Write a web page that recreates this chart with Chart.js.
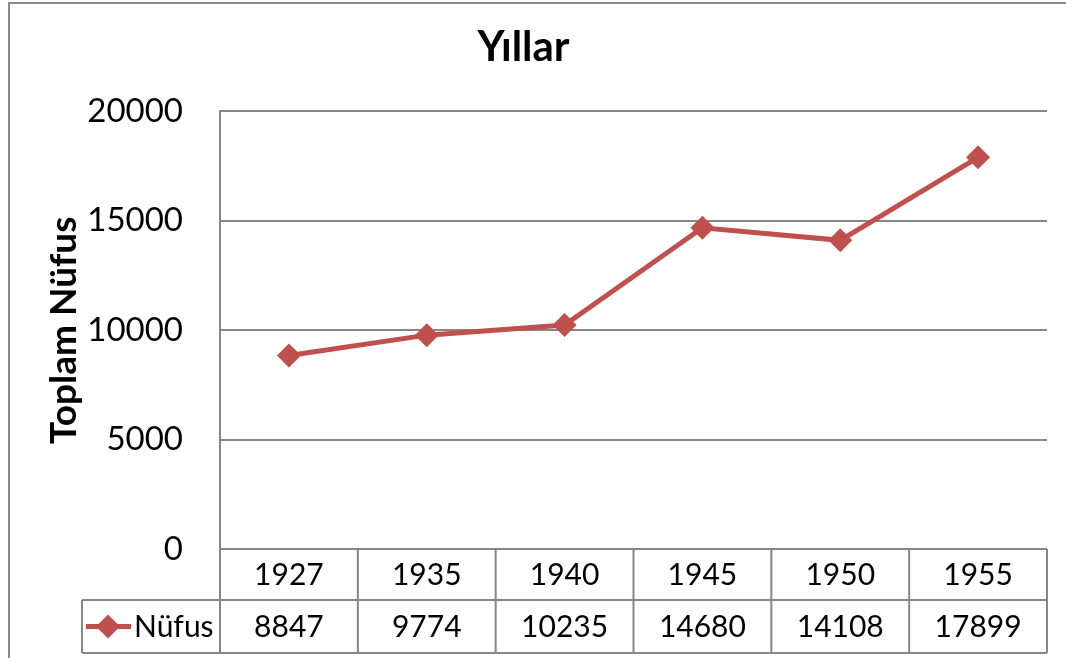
<!DOCTYPE html>
<html>
<head>
<meta charset="utf-8">
<style>
  body { margin: 0; background: #fff; }
  #wrap { width: 1066px; height: 658px; }
</style>
</head>
<body>
<div id="wrap"><canvas id="nufusChart" width="1066" height="658"></canvas></div>
<script src="https://cdn.jsdelivr.net/npm/chart.js@4/dist/chart.umd.min.js"></script>
<script>
  // data
  const years = ['1927', '1935', '1940', '1945', '1950', '1955'];
  const nufus = [8847, 9774, 10235, 14680, 14108, 17899];
  const seriesName = 'Nüfus';
  const yTicks = [0, 5000, 10000, 15000, 20000];

  const red = '#C0504D';
  const gridGray = '#868686';
  const fontFam = 'Lato, "Open Sans", sans-serif';

  // draws the outer frame and the Excel style data table under the plot
  const dataTable = {
    id: 'dataTable',
    afterDraw(chart) {
      const ctx = chart.ctx;
      const ca = chart.chartArea;
      const xs = chart.scales.x;
      const n = years.length;
      const colW = (ca.right - ca.left) / n;
      const row1Top = ca.bottom, row1Bot = ca.bottom + 51, row2Bot = row1Bot + 53;
      const legLeft = 82;

      ctx.save();
      ctx.strokeStyle = gridGray;
      ctx.lineWidth = 2;
      ctx.beginPath();
      // column dividers
      for (let i = 0; i <= n; i++) {
        const x = ca.left + i * colW;
        ctx.moveTo(x, row1Top); ctx.lineTo(x, row2Bot);
      }
      // row lines
      ctx.moveTo(legLeft, row1Bot); ctx.lineTo(ca.right, row1Bot);
      ctx.moveTo(legLeft, row2Bot); ctx.lineTo(ca.right, row2Bot);
      ctx.moveTo(legLeft, row1Bot); ctx.lineTo(legLeft, row2Bot);
      ctx.stroke();

      // outer chart frame
      ctx.lineWidth = 2;
      ctx.strokeStyle = '#8c8c8c';
      ctx.strokeRect(9, 3, 1100, 700);

      // cell texts
      ctx.fillStyle = '#000';
      ctx.font = '30px ' + fontFam;
      ctx.textAlign = 'center';
      ctx.textBaseline = 'middle';
      years.forEach((y, i) => {
        const cx = xs.getPixelForValue(i);
        ctx.fillText(y, cx, (row1Top + row1Bot) / 2 + 1);
        ctx.fillText(String(nufus[i]), cx, (row1Bot + row2Bot) / 2 + 1);
      });

      // legend key
      const ly = (row1Bot + row2Bot) / 2;
      ctx.strokeStyle = red;
      ctx.lineWidth = 5;
      ctx.beginPath();
      ctx.moveTo(86, ly); ctx.lineTo(131, ly);
      ctx.stroke();
      ctx.fillStyle = red;
      Chart.helpers.drawPoint(ctx, { pointStyle: 'rectRot', radius: 12, rotation: 0, borderWidth: 0 }, 108, ly);
      ctx.fillStyle = '#000';
      ctx.textAlign = 'left';
      ctx.fillText(seriesName, 134, ly + 1);
      ctx.restore();
    }
  };

  new Chart(document.getElementById('nufusChart'), {
    type: 'line',
    data: {
      labels: years,
      datasets: [{
        label: seriesName,
        data: nufus,
        borderColor: red,
        backgroundColor: red,
        borderWidth: 5,
        tension: 0,
        pointStyle: 'rectRot',
        pointRadius: 12,
        pointBorderWidth: 0,
        pointBackgroundColor: red
      }]
    },
    options: {
      responsive: false,
      animation: false,
      layout: { padding: { left: 0, top: 0, right: 19, bottom: 0 } },
      plugins: {
        legend: { display: false },
        tooltip: { enabled: false },
        title: {
          display: true,
          text: 'Yıllar',
          color: '#000',
          font: { family: fontFam, size: 42, weight: 'bold' },
          padding: { top: 22, bottom: 39 }
        }
      },
      scales: {
        x: {
          type: 'category',
          offset: true,
          grid: { display: false },
          border: { display: false },
          ticks: { display: false },
          afterFit(scale) { scale.height = 109; }
        },
        y: {
          min: 0,
          max: 20000,
          afterBuildTicks(scale) { scale.ticks = yTicks.map(v => ({ value: v })); },
          ticks: {
            color: '#000',
            padding: 37,
            font: { family: fontFam, size: 33 },
            callback: v => String(v)
          },
          grid: { color: gridGray, lineWidth: 2, drawTicks: false },
          border: { display: true, color: gridGray, width: 2 },
          title: {
            display: true,
            text: 'Toplam Nüfus',
            color: '#000',
            font: { family: fontFam, size: 37, weight: 'bold' },
            padding: { top: 42, bottom: 0 }
          },
          afterFit(scale) { scale.width = 220; }
        }
      }
    },
    plugins: [dataTable]
  });
</script>
</body>
</html>
